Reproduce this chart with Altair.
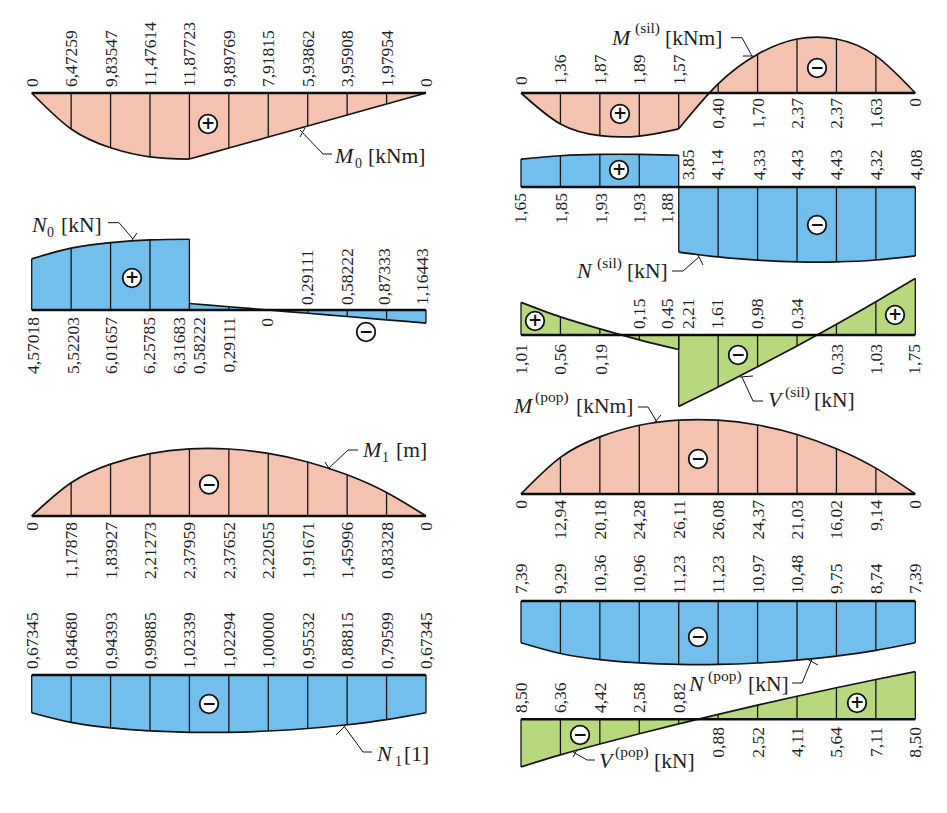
import altair as alt
import pandas as pd

PINK, BLUE, GREEN = "#F4C3AF", "#72BFEE", "#B8D87E"
INK = "#141414"
SERIF = "Liberation Serif"

# ---- values as printed on the diagrams
m0_labels = ["0", "6,47259", "9,83547", "11,47614", "11,87723", "9,89769", "7,91815", "5,93862", "3,95908", "1,97954", "0"]
n0_labels = ["4,57018", "5,52203", "6,01657", "6,25785", "6,31683", "0,58222", "0,29111", "0", "0,29111", "0,58222", "0,87333", "1,16443"]
m1_labels = ["0", "1,17878", "1,83927", "2,21273", "2,37959", "2,37652", "2,22055", "1,91671", "1,45996", "0,83328", "0"]
n1_labels = ["0,67345", "0,84680", "0,94393", "0,99885", "1,02339", "1,02294", "1,00000", "0,95532", "0,88815", "0,79599", "0,67345"]
msil_labels = ["0", "1,36", "1,87", "1,89", "1,57", "0,40", "1,70", "2,37", "2,37", "1,63", "0"]
nsil_labels = ["1,65", "1,85", "1,93", "1,93", "1,88", "3,85", "4,14", "4,33", "4,43", "4,43", "4,32", "4,08"]
vsil_labels = ["1,01", "0,56", "0,19", "0,15", "0,45", "2,21", "1,61", "0,98", "0,34", "0,33", "1,03", "1,75"]
mpop_labels = ["0", "12,94", "20,18", "24,28", "26,11", "26,08", "24,37", "21,03", "16,02", "9,14", "0"]
npop_labels = ["7,39", "9,29", "10,36", "10,96", "11,23", "11,23", "10,97", "10,48", "9,75", "8,74", "7,39"]
vpop_labels = ["8,50", "6,36", "4,42", "2,58", "0,82", "0,88", "2,52", "4,11", "5,64", "7,11", "8,50"]

ST11 = list(range(11))
ST12 = [0, 1, 2, 3, 4, 4, 5, 6, 7, 8, 9, 10]

panels = [
    dict(labels=m0_labels, st=ST11, x0=31.7, base=93, k=5.56, fill=PINK, segs=[(0, 5), (4, 11)],
         dirs=[-1] * 11, lab=[(0, 11, "up", 87)]),
    dict(labels=n0_labels, st=ST12, x0=31.7, base=310, k=11.2, fill=BLUE, segs=[(0, 5), (5, 12)],
         dirs=[1] * 7 + [0] + [-1] * 4,
         lab=[(0, 7, "down", 317), (7, 8, "down", 318), (8, 12, "up", 305)],
         lx={0: 34, 1: 74, 2: 112, 3: 150, 4: 180, 5: 200, 6: 230, 7: 268, 8: 308, 9: 348, 10: 385, 11: 423}),
    dict(labels=m1_labels, st=ST11, x0=31.7, base=516, k=28.2, fill=PINK, segs=[(0, 11)],
         dirs=[1] * 11, lab=[(0, 11, "down", 522)]),
    dict(labels=n1_labels, st=ST11, x0=31.7, base=675, k=56, fill=BLUE, segs=[(0, 11)],
         dirs=[-1] * 11, lab=[(0, 11, "up", 669)]),
    dict(labels=msil_labels, st=ST11, x0=521, base=93, k=22.8, fill=PINK, segs=[(0, 5), (4, 11)],
         dirs=[-1] * 5 + [1] * 6, lab=[(0, 5, "up", 85), (5, 11, "down", 98)]),
    dict(labels=nsil_labels, st=ST12, x0=521, base=187, k=16.9, fill=BLUE, segs=[(0, 5), (5, 12)],
         dirs=[1] * 5 + [-1] * 7, lab=[(0, 5, "down", 193), (5, 12, "up", 180)],
         lx={0: 521, 1: 562, 2: 602, 3: 640, 4: 668, 5: 689, 6: 718, 7: 760, 8: 798, 9: 837, 10: 877, 11: 917}),
    dict(labels=vsil_labels, st=ST12, x0=521, base=335, k=32.3, fill=GREEN, segs=[(0, 5), (5, 12)],
         dirs=[1, 1, 1, -1, -1, -1, -1, -1, -1, 1, 1, 1],
         lab=[(0, 3, "down", 344), (3, 9, "up", 329), (9, 12, "down", 344)],
         lx={0: 522, 1: 561, 2: 602, 3: 640, 4: 668, 5: 689, 6: 718, 7: 758, 8: 798, 9: 838, 10: 877, 11: 915}),
    dict(labels=mpop_labels, st=ST11, x0=521, base=494, k=2.83, fill=PINK, segs=[(0, 11)],
         dirs=[1] * 11, lab=[(0, 11, "down", 500)]),
    dict(labels=npop_labels, st=ST11, x0=521, base=601, k=5.65, fill=BLUE, segs=[(0, 11)],
         dirs=[-1] * 11, lab=[(0, 11, "up", 594)]),
    dict(labels=vpop_labels, st=ST11, x0=521, base=719.3, k=5.6, fill=GREEN, segs=[(0, 11)],
         dirs=[-1] * 5 + [1] * 6, lab=[(0, 5, "up", 713), (5, 11, "down", 727)]),
]
STEP = 39.43

# ---- plus / minus markers
signs_pos = [(208, 124), (132, 278), (620, 114), (619, 170), (535, 321), (895, 315), (857, 703)]
signs_neg = [(366, 332), (209, 484.5), (209, 704), (817, 68), (817, 225), (738, 355), (698, 459), (698, 637), (580, 735)]

# ---- captions: (text, x, baseline y, size)
cap_italic = [("M", 335, 163), ("N", 32, 232), ("M", 363, 457), ("N", 377, 761), ("M", 612, 45),
              ("N", 577, 278), ("V", 768, 407), ("M", 514, 413), ("N", 689, 691), ("V", 599, 768)]
cap_plain = [
    ("0", 355, 168, 14), ("[kNm]", 368, 163, 21.5),
    ("0", 47, 237, 14), ("[kN]", 61, 232, 21.5),
    ("1", 382, 462, 14), ("[m]", 396, 457, 21.5),
    ("1", 395, 766, 14), ("[1]", 404, 761, 21.5),
    ("(sil)", 635, 33, 15.5), ("[kNm]", 665, 45, 21.5),
    ("(sil)", 597, 268, 15.5), ("[kN]", 627, 278, 21.5),
    ("(sil)", 785, 397, 15.5), ("[kN]", 814, 407, 21.5),
    ("(pop)", 535, 402, 15.5), ("[kNm]", 576, 413, 21.5),
    ("(pop)", 708, 681, 15.5), ("[kN]", 748, 691, 21.5),
    ("(pop)", 615, 757, 15.5), ("[kN]", 654, 768, 21.5),
]
leaders = [
    [(300, 130), (323, 154), (332, 154)], [(300, 137), (305, 128)],
    [(108, 222.7), (119, 222.7), (133, 239)], [(132, 240), (137, 233)],
    [(358, 450), (348, 450), (328, 469)], [(325, 462), (330, 470)],
    [(372, 752), (363, 752), (344, 726)], [(336, 735), (347, 724)],
    [(731, 37.7), (742, 37.7), (752, 56)], [(743, 56), (753, 56)],
    [(672, 271), (683, 271), (699, 257)], [(698, 255), (703, 265)],
    [(763, 401), (753, 401), (742, 377)], [(740, 377), (753, 376)],
    [(638, 407), (648, 407), (657, 422)], [(655, 422), (661, 415)],
    [(792, 683), (802, 683), (812, 659)], [(807, 659), (818, 665)],
    [(595, 760), (587, 760), (573, 752)], [(573, 757), (577, 750)],
]

# ---- tables
shape_rows, rule_rows, base_rows, up_rows, down_rows = [], [], [], [], []
for pi, p in enumerate(panels):
    vals = [float(s.replace(",", ".")) for s in p["labels"]]
    xs = [p["x0"] + STEP * s for s in p["st"]]
    ys = [p["base"] - d * v * p["k"] for d, v in zip(p["dirs"], vals)]
    for si, (a, b) in enumerate(p["segs"]):
        for i in range(a, b):
            shape_rows.append(dict(seg=f"{pi}-{si}", x=xs[i], y=ys[i], y2=p["base"], fill=p["fill"]))
    for x, y in zip(xs, ys):
        rule_rows.append(dict(x=x, y=y, y2=p["base"]))
    base_rows.append(dict(x=xs[0], x2=xs[-1], y=p["base"]))
    for a, b, side, pos in p["lab"]:
        for i in range(a, b):
            lx = p.get("lx", {}).get(i, xs[i] + 1)
            row = dict(x=lx, y=pos, t=p["labels"][i])
            (up_rows if side == "up" else down_rows).append(row)

shapes = pd.DataFrame(shape_rows)
rules = pd.DataFrame(rule_rows)
bases = pd.DataFrame(base_rows)
ups = pd.DataFrame(up_rows)
downs = pd.DataFrame(down_rows)
lead = pd.DataFrame([dict(g=i, o=j, x=x, y=y) for i, l in enumerate(leaders) for j, (x, y) in enumerate(l)])
circles = pd.DataFrame([dict(x=x, y=y) for x, y in signs_pos + signs_neg])
plus = pd.DataFrame([dict(x=x, y=y, t="+") for x, y in signs_pos])
minus = pd.DataFrame([dict(x=x, y=y, t="\u2212") for x, y in signs_neg])
ital = pd.DataFrame([dict(t=t, x=x, y=y) for t, x, y in cap_italic])
plain = pd.DataFrame([dict(t=t, x=x, y=y, s=s) for t, x, y, s in cap_plain])

W, H = 931, 797
X = alt.X("x:Q", axis=None, scale=alt.Scale(domain=[8, 8 + W], nice=False, zero=False))
Y = alt.Y("y:Q", axis=None, scale=alt.Scale(domain=[8 + H, 8], nice=False, zero=False))

area = alt.Chart(shapes).mark_area(interpolate="natural").encode(
    x=X, y=Y, y2="y2:Q", color=alt.Color("fill:N", scale=None), detail="seg:N")
outline = alt.Chart(shapes).mark_line(interpolate="natural", color=INK, strokeWidth=1.7).encode(
    x=X, y=Y, detail="seg:N")
stations = alt.Chart(rules).mark_rule(color=INK, strokeWidth=1.3).encode(x=X, y=Y, y2="y2:Q")
baseline = alt.Chart(bases).mark_rule(color="#0c0c0c", strokeWidth=2.4).encode(x=X, x2="x2:Q", y=Y)
leader = alt.Chart(lead).mark_line(color=INK, strokeWidth=1).encode(
    x=X, y=Y, detail="g:N", order="o:Q")
circ = alt.Chart(circles).mark_point(shape="circle", size=345, filled=False, fill="white", fillOpacity=1,
                                     stroke="#111111", strokeWidth=1.8, opacity=1).encode(x=X, y=Y)

num = dict(font=SERIF, fontSize=17.5, angle=270, baseline="middle", color="#1e1e1e")
up_text = alt.Chart(ups).mark_text(align="left", **num).encode(x=X, y=Y, text="t:N")
down_text = alt.Chart(downs).mark_text(align="right", **num).encode(x=X, y=Y, text="t:N")
ital_text = alt.Chart(ital).mark_text(font=SERIF, fontStyle="italic", fontSize=22, align="left",
                                      baseline="alphabetic", color="#1e1e1e").encode(x=X, y=Y, text="t:N")
plain_text = alt.Chart(plain).mark_text(font=SERIF, align="left", baseline="alphabetic", color="#1e1e1e").encode(
    x=X, y=Y, text="t:N", size=alt.Size("s:Q", scale=None))
sign_style = dict(font="DejaVu Sans", fontWeight="bold", fontSize=17, align="center", baseline="middle", color="#111111")
plus_text = alt.Chart(plus).mark_text(**sign_style).encode(x=X, y=Y, text="t:N")
minus_text = alt.Chart(minus).mark_text(**sign_style).encode(x=X, y=Y, text="t:N")

chart = alt.layer(area, outline, stations, baseline, leader, circ, plus_text, minus_text,
                  up_text, down_text, ital_text, plain_text).properties(
    width=W, height=H, padding=0, autosize="none", background="white"
).configure_view(stroke=None)

chart.save("out.html", embed_options={"renderer": "svg", "actions": False})
